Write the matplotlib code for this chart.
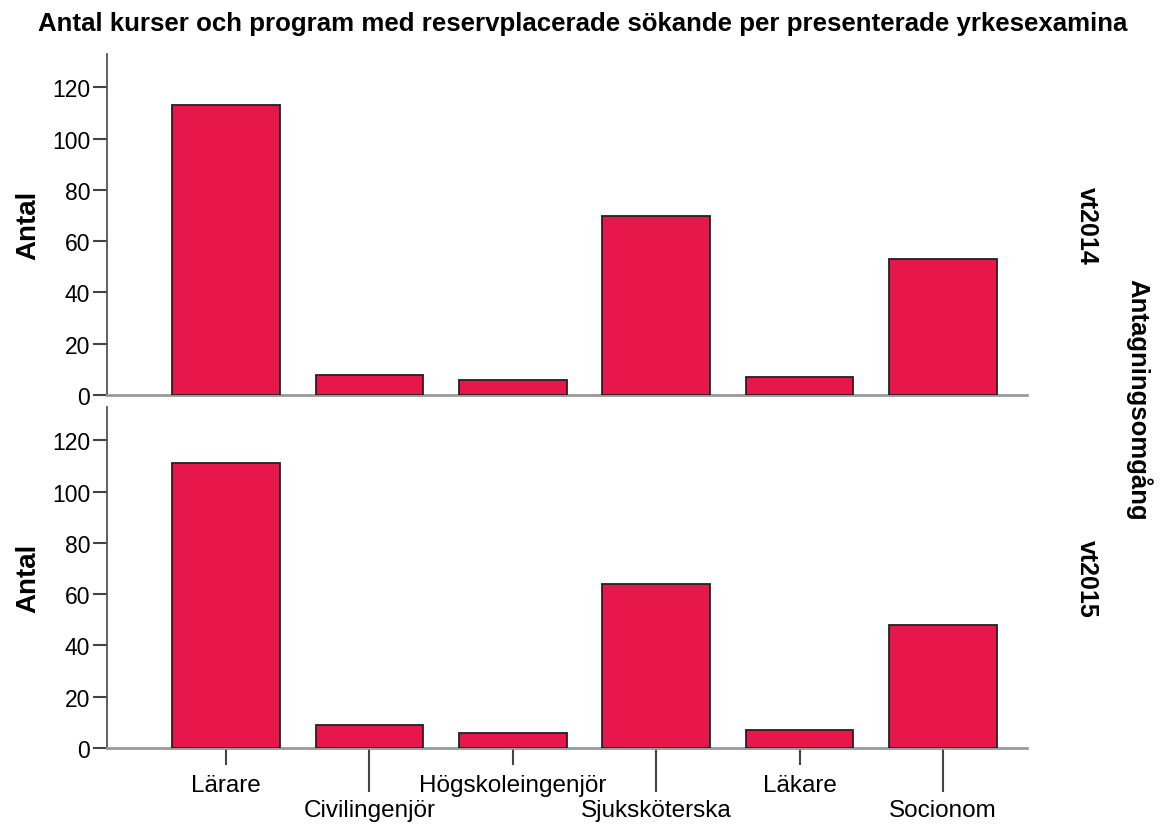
import numpy as np
import matplotlib
matplotlib.use('Agg')
import matplotlib.pyplot as plt

plt.rcParams['font.family'] = ['Liberation Sans', 'DejaVu Sans']

yrken = ['Lärare', 'Civilingenjör', 'Högskoleingenjör', 'Sjuksköterska', 'Läkare', 'Socionom']
omgangar = ['vt2014', 'vt2015']
antal_vt2014 = [113, 8, 6, 70, 7, 53]
antal_vt2015 = [111, 9, 6, 64, 7, 48]

fig = plt.figure(figsize=(11.66, 8.28), dpi=100)
ax1 = fig.add_axes([0.0918, 0.5217, 0.7894, 0.4118])
ax2 = fig.add_axes([0.0918, 0.0954, 0.7894, 0.4118])

x = np.arange(len(yrken))
for ax, vals, omg in zip([ax1, ax2], [antal_vt2014, antal_vt2015], omgangar):
    ax.bar(x, vals, width=0.75, color='#E8174B', edgecolor='#222222', linewidth=1.3, zorder=3)
    ax.set_xlim(-0.83, 5.59)
    ax.set_ylim(0, 133)
    ax.set_yticks(np.arange(0, 121, 20))
    for s in ['top', 'right']:
        ax.spines[s].set_visible(False)
    ax.spines['left'].set_color('#555555')
    ax.spines['left'].set_linewidth(1.3)
    ax.spines['bottom'].set_color('#999999')
    ax.spines['bottom'].set_linewidth(2)
    ax.tick_params(axis='y', length=10, width=1.5, color='#444444', labelsize=16.5, pad=2)
    ax.set_ylabel('Antal', fontsize=20, fontweight='bold', labelpad=8)
    ax.text(1.065, 0.5, omg, transform=ax.transAxes, rotation=-90, ha='center', va='center',
            fontsize=18, fontweight='bold')

ax1.set_xticks([])

# staggered category labels: major ticks short, minor ticks long
ax2.set_xticks(x[0::2])
ax2.set_xticklabels(yrken[0::2])
ax2.set_xticks(x[1::2], minor=True)
ax2.set_xticklabels(yrken[1::2], minor=True)
ax2.tick_params(axis='x', which='major', length=12, width=1.5, color='#444444', labelsize=17.5, pad=7)
ax2.tick_params(axis='x', which='minor', length=32, width=1.5, color='#444444', labelsize=17.5, pad=5)

fig.text(0.977, 0.5171, 'Antagningsomgång', rotation=-90, ha='center', va='center',
         fontsize=18.5, fontweight='bold')
fig.suptitle('Antal kurser och program med reservplacerade sökande per presenterade yrkesexamina',
             x=0.5, y=0.986, fontsize=18.6, fontweight='bold')

plt.savefig('out.png', dpi=100)
